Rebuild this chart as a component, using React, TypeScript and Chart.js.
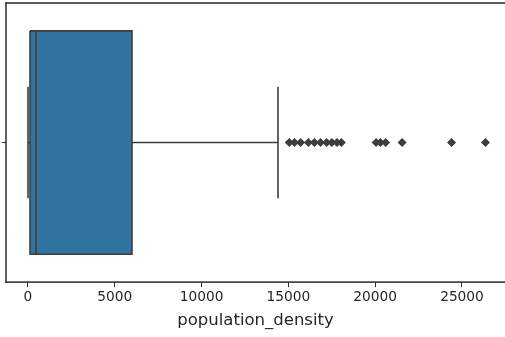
import React, { useEffect, useRef } from "react";
import { Chart, registerables } from "chart.js";

Chart.register(...registerables);

// Box statistics (population_density)
const BOX_STATS = ["lowerWhisker", "q1", "median", "q3", "upperWhisker"];
const BOX_VALUES = [0, 115, 460, 5990, 14400];
// Outliers beyond the upper whisker
const OUTLIERS = [
  15050, 15350, 15700, 16150, 16500, 16850, 17200, 17500, 17800, 18050,
  20050, 20300, 20600, 21550, 24400, 26350,
];
// Axis
const X_TICKS = [0, 5000, 10000, 15000, 20000, 25000];
const X_MIN = -1267;
const X_MAX = 27477;
const X_TITLE = "population_density";

const BOX_HALF = 0.4;
const CAP_HALF = 0.2;
const FILL = "#3274a1";
const EDGE = "#3d3d3d";
const FRAME = "#2b2b2b";
const TEXT = "#262626";

// Spines: left, top and bottom (the right spine lies just outside the picture)
const framePlugin = {
  id: "frame",
  afterDraw(chart: any) {
    const { ctx, chartArea, width } = chart;
    const { left, top, bottom } = chartArea;
    const lw = 1.5;
    ctx.save();
    ctx.fillStyle = FRAME;
    ctx.fillRect(left - lw / 2, top - lw / 2, width + 20 - left, lw);
    ctx.fillRect(left - lw / 2, bottom - lw / 2, width + 20 - left, lw);
    ctx.fillRect(left - lw / 2, top - lw / 2, lw, bottom - top + lw);
    ctx.restore();
  },
};

export default function App() {
  const ref = useRef<HTMLCanvasElement | null>(null);

  useEffect(() => {
    if (!ref.current) return;
    const v = (k: string) => BOX_VALUES[BOX_STATS.indexOf(k)];
    const wlo = v("lowerWhisker");
    const q1 = v("q1");
    const med = v("median");
    const q3 = v("q3");
    const whi = v("upperWhisker");

    const lineDs = (data: { x: number; y: number }[], extra: any = {}) => ({
      type: "line",
      data,
      borderColor: EDGE,
      borderWidth: 1.6,
      pointRadius: 0,
      fill: false,
      tension: 0,
      order: 1,
      ...extra,
    });

    const chart = new Chart(ref.current, {
      type: "line",
      data: {
        datasets: [
          {
            type: "line",
            data: OUTLIERS.map((x) => ({ x, y: 0 })),
            showLine: false,
            pointStyle: "rectRot",
            pointRadius: 4.5,
            pointBackgroundColor: EDGE,
            pointBorderColor: EDGE,
            pointBorderWidth: 0,
            order: 0,
          } as any,
          lineDs([
            { x: wlo, y: 0 },
            { x: q1, y: 0 },
          ]),
          lineDs([
            { x: q3, y: 0 },
            { x: whi, y: 0 },
          ]),
          lineDs([
            { x: wlo, y: -CAP_HALF },
            { x: wlo, y: CAP_HALF },
          ]),
          lineDs([
            { x: whi, y: -CAP_HALF },
            { x: whi, y: CAP_HALF },
          ]),
          lineDs([
            { x: med, y: -BOX_HALF },
            { x: med, y: BOX_HALF },
          ]),
          lineDs(
            [
              { x: q1, y: -BOX_HALF },
              { x: q3, y: -BOX_HALF },
              { x: q3, y: BOX_HALF },
              { x: q1, y: BOX_HALF },
              { x: q1, y: -BOX_HALF },
            ],
            { order: 2 }
          ),
          lineDs(
            [
              { x: q1, y: -BOX_HALF },
              { x: q3, y: -BOX_HALF },
            ],
            { borderWidth: 0, fill: { value: BOX_HALF }, backgroundColor: FILL, order: 5 }
          ),
        ] as any,
      },
      options: {
        animation: false,
        responsive: false,
        devicePixelRatio: 1,
        layout: { autoPadding: false, padding: { left: 2, top: 3, right: 0, bottom: 6 } },
        plugins: {
          legend: { display: false },
          tooltip: { enabled: false },
          filler: { propagate: false },
        },
        scales: {
          x: {
            type: "linear",
            min: X_MIN,
            max: X_MAX,
            afterBuildTicks: (s: any) => {
              s.ticks = X_TICKS.map((value) => ({ value }));
            },
            grid: { drawOnChartArea: false, drawTicks: true, tickLength: 5, color: FRAME, lineWidth: 1 },
            border: { display: false },
            ticks: {
              padding: 2,
              color: TEXT,
              maxRotation: 0,
              autoSkip: false,
              font: { family: "DejaVu Sans", size: 13.75 },
              callback: (val: any) => String(val),
            },
            title: {
              display: true,
              text: X_TITLE,
              color: TEXT,
              font: { family: "DejaVu Sans", size: 16.5 },
              padding: { top: 3.6, bottom: 0 },
            },
          },
          y: {
            type: "linear",
            min: -0.5,
            max: 0.5,
            reverse: true,
            afterBuildTicks: (s: any) => {
              s.ticks = [{ value: 0 }];
            },
            grid: { drawOnChartArea: false, drawTicks: true, tickLength: 4, color: FRAME, lineWidth: 1 },
            border: { display: false },
            ticks: { display: false },
          },
        },
      } as any,
      plugins: [framePlugin],
    });
    return () => chart.destroy();
  }, []);

  return (
    <div
      style={{
        position: "fixed",
        left: 0,
        top: 0,
        width: 505,
        height: 337,
        overflow: "hidden",
        background: "#fff",
      }}
    >
      <canvas ref={ref} width={505} height={337} style={{ display: "block" }} />
    </div>
  );
}
